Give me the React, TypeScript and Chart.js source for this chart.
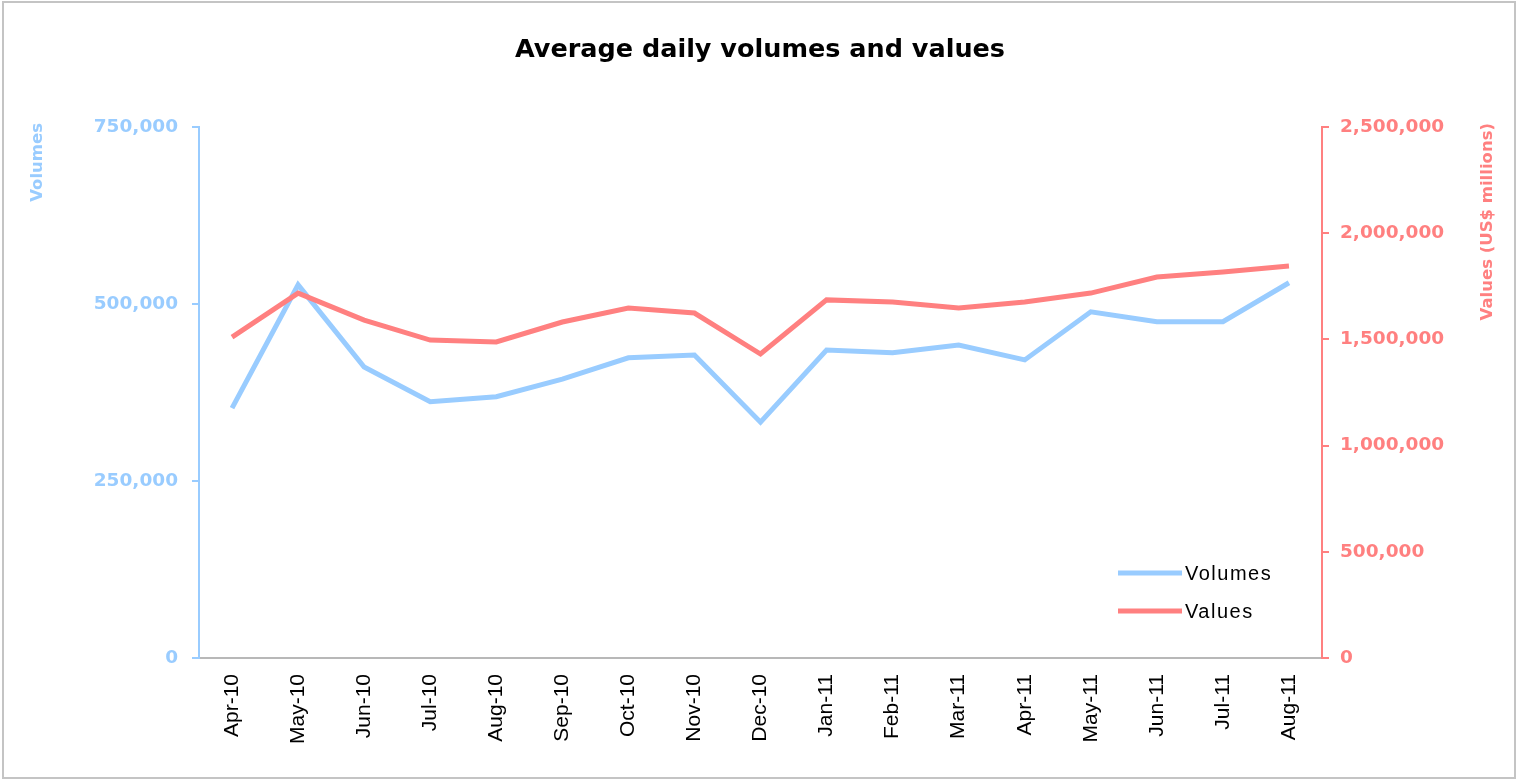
import React, { useEffect, useRef } from "react";
import { Chart, registerables } from "chart.js";

Chart.register(...registerables);

const categories = [
  "Apr-10", "May-10", "Jun-10", "Jul-10", "Aug-10", "Sep-10", "Oct-10", "Nov-10", "Dec-10",
  "Jan-11", "Feb-11", "Mar-11", "Apr-11", "May-11", "Jun-11", "Jul-11", "Aug-11",
];
const volumes = [
  353000, 527000, 411000, 362000, 369000, 394000, 424000, 428000, 333000,
  435000, 431000, 442000, 421000, 489000, 475000, 475000, 530000,
];
const values = [
  1511000, 1718000, 1591000, 1497000, 1488000, 1582000, 1648000, 1624000, 1431000,
  1686000, 1676000, 1648000, 1676000, 1718000, 1794000, 1817000, 1846000,
];
const leftTicks = [0, 250000, 500000, 750000];
const rightTicks = [0, 500000, 1000000, 1500000, 2000000, 2500000];

const TITLE = "Average daily volumes and values";
const LEFT_TITLE = "Volumes";
const RIGHT_TITLE = "Values (US$ millions)";
const BLUE = "#99CCFF";
const RED = "#FF8080";

const fmt = (v: number) => v.toLocaleString("en-US");

const decor = {
  id: "decor",
  afterDraw(chart: any) {
    const ctx = chart.ctx as CanvasRenderingContext2D;
    const area = chart.chartArea;
    ctx.save();
    // frame
    ctx.strokeStyle = "#c4c4c4";
    ctx.lineWidth = 2;
    ctx.strokeRect(3, 2, 1512, 776);
    // title
    ctx.fillStyle = "#000";
    ctx.font = "bold 25.5px 'DejaVu Sans'";
    ctx.textAlign = "center";
    ctx.textBaseline = "middle";
    ctx.fillText(TITLE, 760, 50);
    // axis titles
    ctx.font = "bold 16.5px 'DejaVu Sans'";
    ctx.textAlign = "right";
    ctx.fillStyle = BLUE;
    ctx.save();
    ctx.translate(38, area.top - 4);
    ctx.rotate(-Math.PI / 2);
    ctx.fillText(LEFT_TITLE, 0, 0);
    ctx.restore();
    ctx.fillStyle = RED;
    ctx.save();
    ctx.translate(1488, area.top - 4);
    ctx.rotate(-Math.PI / 2);
    ctx.fillText(RIGHT_TITLE, 0, 0);
    ctx.restore();
    // legend
    const items = chart.data.datasets.map((d: any) => ({ label: d.label, color: d.borderColor }));
    items.sort((a: any) => (a.label === "Volumes" ? -1 : 1));
    ctx.font = "20px 'Liberation Sans'";
    (ctx as any).letterSpacing = "1.5px";
    ctx.textAlign = "left";
    items.forEach((it: any, i: number) => {
      const y = 573 + i * 38;
      ctx.strokeStyle = it.color;
      ctx.lineWidth = 5;
      ctx.beginPath();
      ctx.moveTo(1118, y);
      ctx.lineTo(1182, y);
      ctx.stroke();
      ctx.fillStyle = "#000";
      ctx.fillText(it.label, 1185, y + 1);
    });
    ctx.restore();
  },
};

export default function App() {
  const ref = useRef<HTMLCanvasElement>(null);
  useEffect(() => {
    document.body.style.margin = "0";
    const chart = new Chart(ref.current!, {
      type: "line",
      data: {
        labels: categories,
        datasets: [
          {
            label: "Volumes",
            data: volumes,
            borderColor: BLUE,
            backgroundColor: BLUE,
            borderWidth: 5,
            pointRadius: 0,
            tension: 0,
            yAxisID: "y",
            order: 1,
          },
          {
            label: "Values",
            data: values,
            borderColor: RED,
            backgroundColor: RED,
            borderWidth: 5,
            pointRadius: 0,
            tension: 0,
            yAxisID: "y1",
            order: 0,
          },
        ],
      },
      options: {
        responsive: false,
        animation: false,
        layout: { padding: { top: 127, left: 0, right: 0, bottom: 0 } },
        plugins: { legend: { display: false }, title: { display: false }, tooltip: { enabled: false } },
        scales: {
          x: {
            type: "category",
            offset: true,
            grid: { display: false, drawTicks: false },
            border: { display: true, color: "#b8b8b8", width: 2 },
            ticks: {
              color: "#000",
              font: { family: "'Liberation Sans'", size: 21 },
              minRotation: 90,
              maxRotation: 90,
              padding: 16,
              autoSkip: false,
            },
            afterFit: (s: any) => { s.height = 121; },
          },
          y: {
            position: "left",
            min: 0,
            max: 750000,
            afterBuildTicks: (s: any) => { s.ticks = leftTicks.map((v) => ({ value: v })); },
            grid: { display: true, drawOnChartArea: false, drawTicks: true, tickLength: 7, color: BLUE, lineWidth: 2 },
            border: { display: true, color: BLUE, width: 2 },
            ticks: {
              color: BLUE,
              font: { family: "'DejaVu Sans'", size: 18.5, weight: "bold" },
              padding: 14,
              callback: (v: any) => fmt(Number(v)),
            },
            afterFit: (s: any) => { s.width = 199; },
          },
          y1: {
            position: "right",
            min: 0,
            max: 2500000,
            afterBuildTicks: (s: any) => { s.ticks = rightTicks.map((v) => ({ value: v })); },
            grid: { display: true, drawOnChartArea: false, drawTicks: true, tickLength: 7, color: RED, lineWidth: 2 },
            border: { display: true, color: RED, width: 2 },
            ticks: {
              color: RED,
              font: { family: "'DejaVu Sans'", size: 18.5, weight: "bold" },
              padding: 11,
              callback: (v: any) => fmt(Number(v)),
            },
            afterFit: (s: any) => { s.width = 195; },
          },
        },
      },
      plugins: [decor],
    });
    return () => chart.destroy();
  }, []);
  return (
    <div style={{ width: 1517, height: 779 }}>
      <canvas ref={ref} width={1517} height={779} />
    </div>
  );
}
